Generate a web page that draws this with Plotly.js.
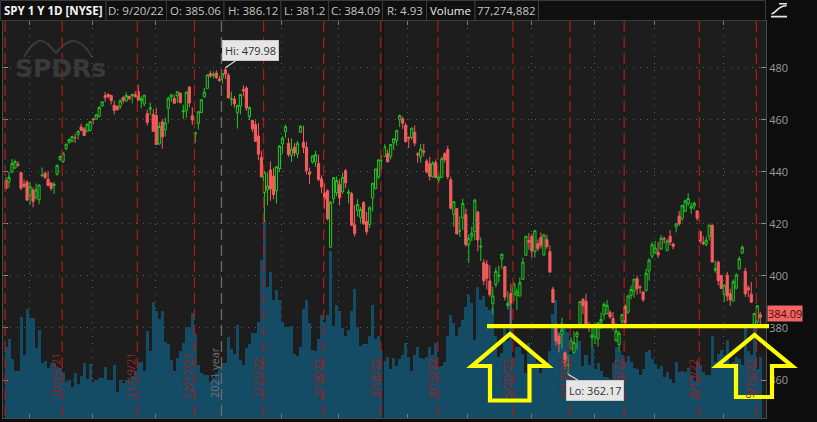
<!DOCTYPE html>
<html><head><meta charset="utf-8">
<script src="https://cdn.plot.ly/plotly-3.0.1.min.js"></script>
<style>html,body{margin:0;padding:0;background:#0d0d0d;overflow:hidden}#chart{width:817px;height:422px}</style>
</head><body><div id="chart"></div>
<script>
const dates = ["9/21/21","9/22/21","9/23/21","9/24/21","9/27/21","9/28/21","9/29/21","9/30/21","10/1/21","10/4/21","10/5/21","10/6/21","10/7/21","10/8/21","10/11/21","10/12/21","10/13/21","10/14/21","10/15/21","10/18/21","10/19/21","10/20/21","10/21/21","10/22/21","10/25/21","10/26/21","10/27/21","10/28/21","10/29/21","11/1/21","11/2/21","11/3/21","11/4/21","11/5/21","11/8/21","11/9/21","11/10/21","11/11/21","11/12/21","11/15/21","11/16/21","11/17/21","11/18/21","11/19/21","11/22/21","11/23/21","11/24/21","11/26/21","11/29/21","11/30/21","12/1/21","12/2/21","12/3/21","12/6/21","12/7/21","12/8/21","12/9/21","12/10/21","12/13/21","12/14/21","12/15/21","12/16/21","12/17/21","12/20/21","12/21/21","12/22/21","12/23/21","12/27/21","12/28/21","12/29/21","12/30/21","12/31/21","1/3/22","1/4/22","1/5/22","1/6/22","1/7/22","1/10/22","1/11/22","1/12/22","1/13/22","1/14/22","1/18/22","1/19/22","1/20/22","1/21/22","1/24/22","1/25/22","1/26/22","1/27/22","1/28/22","1/31/22","2/1/22","2/2/22","2/3/22","2/4/22","2/7/22","2/8/22","2/9/22","2/10/22","2/11/22","2/14/22","2/15/22","2/16/22","2/17/22","2/18/22","2/22/22","2/23/22","2/24/22","2/25/22","2/28/22","3/1/22","3/2/22","3/3/22","3/4/22","3/7/22","3/8/22","3/9/22","3/10/22","3/11/22","3/14/22","3/15/22","3/16/22","3/17/22","3/18/22","3/21/22","3/22/22","3/23/22","3/24/22","3/25/22","3/28/22","3/29/22","3/30/22","3/31/22","4/1/22","4/4/22","4/5/22","4/6/22","4/7/22","4/8/22","4/11/22","4/12/22","4/13/22","4/14/22","4/18/22","4/19/22","4/20/22","4/21/22","4/22/22","4/25/22","4/26/22","4/27/22","4/28/22","4/29/22","5/2/22","5/3/22","5/4/22","5/5/22","5/6/22","5/9/22","5/10/22","5/11/22","5/12/22","5/13/22","5/16/22","5/17/22","5/18/22","5/19/22","5/20/22","5/23/22","5/24/22","5/25/22","5/26/22","5/27/22","5/31/22","6/1/22","6/2/22","6/3/22","6/6/22","6/7/22","6/8/22","6/9/22","6/10/22","6/13/22","6/14/22","6/15/22","6/16/22","6/17/22","6/21/22","6/22/22","6/23/22","6/24/22","6/27/22","6/28/22","6/29/22","6/30/22","7/1/22","7/5/22","7/6/22","7/7/22","7/8/22","7/11/22","7/12/22","7/13/22","7/14/22","7/15/22","7/18/22","7/19/22","7/20/22","7/21/22","7/22/22","7/25/22","7/26/22","7/27/22","7/28/22","7/29/22","8/1/22","8/2/22","8/3/22","8/4/22","8/5/22","8/8/22","8/9/22","8/10/22","8/11/22","8/12/22","8/15/22","8/16/22","8/17/22","8/18/22","8/19/22","8/22/22","8/23/22","8/24/22","8/25/22","8/26/22","8/29/22","8/30/22","8/31/22","9/1/22","9/2/22","9/6/22","9/7/22","9/8/22","9/9/22","9/12/22","9/13/22","9/14/22","9/15/22","9/16/22","9/19/22","9/20/22"];

const opens = [436.53,436.05,439.85,441.44,442.81,439.69,435.19,436.02,430.98,433.00,
430.24,429.27,438.39,439.48,437.16,435.67,434.71,439.08,444.75,443.97,
448.92,451.13,451.77,453.13,454.28,457.20,456.45,455.46,455.87,460.30,
460.22,461.30,465.36,469.28,469.70,469.32,465.58,465.21,465.12,468.64,
467.15,469.00,469.24,469.61,470.89,467.22,466.06,462.34,464.07,462.00,
461.64,450.73,459.17,456.13,464.41,468.70,468.15,469.23,470.19,463.09,
463.42,472.57,461.55,454.48,458.61,462.79,468.75,472.06,477.72,476.98,
477.93,475.64,476.30,479.22,477.16,467.89,467.95,462.70,465.23,471.59,
472.19,461.19,459.74,458.13,453.75,445.56,432.03,433.06,440.72,438.26,
432.68,441.24,450.68,455.50,450.95,446.35,449.51,446.73,455.22,451.34,
449.41,439.92,443.73,443.93,443.22,437.33,431.89,432.66,411.02,429.61,
432.03,435.04,432.37,440.47,431.75,431.55,419.62,425.14,422.52,428.12,
420.89,419.77,429.89,433.59,438.00,444.34,445.86,446.91,445.94,451.16,
452.06,460.02,460.34,457.89,453.31,453.13,455.22,446.89,445.59,447.97,
444.11,443.08,438.03,443.55,436.81,437.86,446.92,448.54,436.91,423.67,
425.83,417.24,422.29,423.59,412.07,415.01,417.08,424.55,411.10,405.10,
404.49,398.07,389.37,396.71,399.98,406.53,403.50,388.62,393.25,392.83,
392.56,392.31,398.67,407.91,413.55,415.17,409.42,412.40,414.78,408.10,
413.93,409.34,394.88,379.85,376.85,377.36,370.51,365.51,371.89,370.62,
376.64,381.40,391.05,390.23,381.23,376.24,376.56,375.88,382.11,385.12,
385.55,385.85,383.65,375.10,373.61,382.55,388.38,386.08,392.47,394.16,
398.92,395.75,393.84,394.36,401.89,407.58,409.15,409.12,410.30,414.37,
409.66,415.25,412.22,418.78,422.99,422.03,424.77,427.73,425.97,426.86,
424.98,417.05,412.90,412.11,415.24,419.39,402.20,405.25,400.15,392.89,
400.28,393.13,390.37,395.33,402.74,408.78,401.83,395.46,392.96,381.47,
382.26,385.06];

const highs = [437.91,440.03,444.89,444.67,444.05,440.04,437.04,436.77,436.03,433.96,
435.49,435.12,441.68,439.89,440.26,436.10,436.05,442.66,446.26,447.55,
450.71,452.73,453.83,454.67,455.90,458.49,457.16,458.40,459.56,460.70,
462.23,465.15,467.00,470.65,470.23,469.57,467.38,465.29,467.86,468.81,
470.49,469.19,470.01,470.94,473.54,469.10,469.57,463.90,466.56,464.03,
464.67,459.07,460.30,460.79,468.88,470.00,469.63,470.90,470.56,465.74,
470.86,472.87,464.74,455.40,463.21,467.81,472.19,477.31,478.81,478.56,
479.00,476.86,477.85,479.98,477.98,470.82,469.20,465.74,469.85,473.20,
472.88,465.09,459.96,459.61,458.74,448.06,440.38,439.72,444.04,441.59,
442.00,450.28,453.63,458.12,452.97,452.78,450.99,451.92,457.88,457.71,
451.61,441.60,446.28,448.06,446.57,438.66,435.50,433.26,428.76,437.84,
438.20,437.17,439.72,441.11,433.37,432.30,427.21,429.51,426.43,428.77,
424.55,426.84,435.68,441.07,444.86,446.46,450.58,448.49,450.50,452.98,
455.91,462.07,461.20,458.76,453.46,456.91,457.83,447.57,450.69,450.63,
445.00,445.75,444.11,444.73,439.75,445.80,447.57,450.01,438.08,428.69,
426.04,422.92,429.64,425.87,415.92,418.93,429.66,425.00,414.80,406.41,
406.08,404.04,395.80,403.18,403.97,408.57,403.80,394.14,397.03,397.73,
395.15,399.45,407.04,415.38,416.46,416.24,417.44,414.04,416.61,416.22,
415.82,411.74,395.78,381.81,377.94,383.90,370.94,369.38,376.53,378.72,
378.83,390.09,391.36,393.16,382.27,380.66,381.70,381.98,385.87,389.83,
390.64,386.87,386.16,381.92,379.05,385.25,389.09,392.87,396.26,398.84,
400.18,396.47,394.06,402.88,406.80,413.03,413.41,413.00,415.68,415.09,
414.15,417.62,412.75,420.00,424.95,427.21,429.31,431.73,428.11,428.61,
425.26,417.16,415.42,415.11,419.56,419.96,405.84,405.90,400.50,396.78,
401.56,395.04,398.59,401.06,407.51,411.73,403.10,396.46,397.73,385.62,
388.55,386.12];

const lows = [433.07,433.75,439.60,441.21,441.90,432.94,433.85,428.78,427.23,426.36,
429.39,427.54,438.20,437.19,434.62,432.78,431.54,438.58,444.09,443.27,
448.27,451.01,451.31,451.05,452.39,455.56,453.86,455.45,455.56,458.20,
460.08,460.83,464.99,466.92,468.20,465.88,462.04,463.75,464.11,466.23,
467.07,467.48,466.34,468.50,467.35,464.45,465.19,457.77,461.73,455.30,
450.29,450.31,448.92,453.56,458.65,466.83,466.14,466.51,466.27,460.25,
460.74,464.80,458.06,451.14,456.31,462.58,468.64,472.01,476.06,475.92,
475.67,474.67,473.85,475.58,468.28,465.43,464.65,456.60,462.05,468.94,
463.44,459.90,455.31,451.46,444.50,437.95,420.76,427.15,428.86,429.45,
427.82,439.81,446.94,453.05,445.71,443.83,445.85,445.22,455.01,447.20,
438.94,435.34,443.18,441.94,436.42,431.82,425.86,421.35,410.64,427.86,
430.70,427.11,431.57,433.80,427.88,419.36,415.12,422.82,420.44,419.53,
415.79,418.42,424.80,433.19,437.22,440.68,445.86,443.71,444.76,448.43,
450.06,457.18,456.47,451.16,449.14,452.26,449.82,443.48,443.53,445.94,
439.39,436.65,437.84,437.68,435.61,437.68,443.48,437.10,425.44,418.84,
416.07,415.01,417.60,411.21,405.02,413.36,413.71,409.44,405.73,396.50,
394.82,391.96,385.15,395.61,397.60,402.58,390.55,387.11,380.54,390.38,
386.96,391.89,398.45,407.70,410.03,406.93,407.04,409.51,410.55,407.61,
410.38,401.44,389.75,373.30,370.59,372.12,364.08,362.17,371.81,370.18,
371.73,381.37,385.25,380.53,378.42,372.56,373.80,372.90,379.60,383.27,
385.25,383.50,378.99,374.66,371.04,380.54,380.66,385.39,391.03,391.63,
392.75,393.21,389.95,394.05,398.15,406.77,408.40,406.82,410.00,412.44,
409.60,411.83,410.22,416.73,419.21,421.03,424.71,426.88,423.85,425.50,
421.22,412.45,411.77,411.39,413.60,405.25,401.20,396.40,395.04,390.04,
390.33,388.42,390.20,394.78,402.46,408.46,391.97,391.76,389.62,380.54,
381.58,381.20];

const closes = [433.63,437.86,443.18,443.91,442.64,433.72,434.45,429.14,434.24,428.64,
433.10,434.90,438.66,437.86,434.69,433.62,435.18,442.50,445.87,447.19,
450.64,452.41,453.59,453.12,455.55,455.96,453.94,458.32,459.25,460.04,
461.90,464.72,466.91,468.53,468.93,467.38,463.62,463.77,467.27,467.43,
469.28,468.14,469.73,468.89,467.57,468.19,469.44,458.97,464.60,455.56,
450.50,457.40,453.42,458.79,468.28,469.52,466.35,470.74,466.57,463.36,
470.60,466.45,459.87,454.98,463.06,467.69,470.60,477.26,476.87,477.48,
476.16,474.96,477.71,477.55,468.38,467.94,466.09,465.51,469.75,471.02,
464.53,464.72,456.49,451.75,446.75,437.98,439.84,434.47,433.38,431.24,
441.95,449.91,452.95,457.35,446.60,448.70,447.26,450.94,457.54,449.32,
440.46,439.02,446.10,446.60,437.06,434.23,429.57,421.95,428.30,437.75,
436.63,429.98,437.89,435.71,432.17,419.43,416.25,427.41,425.48,420.07,
417.00,426.17,435.62,441.07,444.52,444.39,449.59,443.80,450.49,452.69,
455.91,461.55,458.70,451.64,452.92,456.80,451.03,446.52,448.77,447.57,
439.92,438.29,443.31,437.79,437.97,445.04,444.71,438.06,426.04,428.51,
416.10,417.27,427.81,412.00,414.48,416.38,429.06,413.81,411.34,398.17,
399.09,392.75,392.34,401.72,400.09,408.32,391.86,389.46,389.63,396.92,
393.89,397.37,405.31,415.26,412.93,409.59,417.39,410.54,411.79,415.74,
411.22,401.44,389.80,375.00,373.87,379.20,366.65,365.86,375.07,374.39,
378.06,390.08,388.59,380.65,380.34,377.25,381.24,381.96,383.25,388.99,
388.67,384.23,380.83,378.83,377.91,385.13,381.95,392.27,394.77,398.79,
395.09,395.57,390.89,401.04,406.07,411.99,410.77,408.06,414.45,414.17,
413.47,412.99,411.35,419.99,419.99,427.10,428.86,429.70,426.65,427.89,
422.14,413.35,412.35,413.67,419.51,405.31,402.63,398.21,395.18,396.42,
392.24,390.76,397.78,400.38,406.60,410.97,393.10,394.60,389.90,385.56,
388.55,384.09];

// volume, millions of shares
const volumes = [91,101,75,60,60,129,80,139,127,127,
89,112,70,73,64,70,70,64,64,59,
46,48,40,57,43,54,70,50,69,46,
48,51,51,65,49,49,68,33,49,45,
49,49,54,60,72,72,60,111,85,148,
136,126,136,97,94,74,60,77,85,96,
116,116,134,107,68,57,55,55,46,51,
57,64,70,70,103,88,82,119,74,68,
89,94,108,108,122,201,252,167,186,150,
163,150,123,116,116,117,82,79,91,139,
151,121,87,86,101,131,123,131,213,117,
144,136,115,105,112,136,164,116,92,94,
94,105,144,101,105,87,73,78,63,76,
66,75,80,95,78,60,80,90,77,75,
78,91,80,95,65,66,72,104,131,121,
104,116,125,142,157,146,99,167,150,155,
142,138,140,104,78,83,117,98,146,76,
91,91,82,57,95,86,79,71,57,67,
64,86,132,150,110,121,120,110,81,90,
95,98,66,80,67,90,62,70,60,52,
52,50,70,90,85,80,72,79,71,64,
63,55,62,84,87,75,69,63,66,52,
58,50,44,72,59,60,58,64,55,47,
72,68,58,55,55,105,72,82,87,80,
99,65,71,78,75,68,115,85,80,115,
62,77.27];

const expiryLabels = ["9/17/21","10/15/21","11/19/21","12/17/21","1/21/22","2/18/22","3/18/22","4/15/22","5/20/22","6/17/22","7/15/22","8/19/22","9/16/22"];
const priceTicks = [360,380,400,420,440,460,480];
const lastVolumeShares = 77274882;
const lastRange = "4.93";
const symbolTitle = "SPY 1 Y 1D [NYSE]";
const cursorDate = "3/21/22";

// ---------- helpers ----------
const W = 817, H = 422, M = {l:3, r:51, t:21, b:4};
const PW = W - M.l - M.r, PH = H - M.t - M.b;
const PX = x => (x - M.l) / PW;
const PY = y => (H - M.b - y) / PH;
function key(s){const p=s.split('/').map(Number);return (2000+p[2])*10000+p[0]*100+p[1];}
const dateKeys = dates.map(key);
const idx = dates.map((d,i)=>i);
const last = dates.length - 1;
const OFF = -0.3;

const monthStarts = [], yearStarts = [];
for(let i=1;i<dates.length;i++){
  const a = dates[i-1].split('/'), b = dates[i].split('/');
  if(b[2] !== a[2]) yearStarts.push(i); else if(b[0] !== a[0]) monthStarts.push(i);
}
const expiryIdx = expiryLabels.map(s => { const k = key(s); return dateKeys.findIndex(v => v > k); });

function pxPath(cmds){
  return cmds.map(c => c[0] + ' ' + c.slice(1).map((v,j)=> j%2===0 ? PX(v).toFixed(5) : PY(v).toFixed(5)).join(' ')).join(' ');
}

const grid = {gridcolor:'#5c5c5c', griddash:'1px,6px', gridwidth:1};

// ---------- traces ----------
const volTrace = {
  type:'bar', x: idx, y: volumes, yaxis:'y', xaxis:'x',
  marker:{color:'#144b65', line:{width:0}}, hoverinfo:'skip', showlegend:false
};
const candleTrace = {
  type:'candlestick', x: idx, open: opens, high: highs, low: lows, close: closes,
  xaxis:'x', yaxis:'y2', showlegend:false, hoverinfo:'skip',
  increasing:{line:{color:'#22c822', width:1}, fillcolor:'#1d1d1d'},
  decreasing:{line:{color:'#f65c5c', width:1}, fillcolor:'#f65c5c'},
  whiskerwidth:0
};

// ---------- shapes ----------
const shapes = [];
expiryIdx.forEach(e => {
  if(e < 0) return;
  shapes.push({type:'line', xref:'x', yref:'paper', x0:e+OFF, x1:e+OFF, y0:1, y1:0,
    line:{color:'#a51c1c', width:1.3, dash:'11px,5px'}, layer:'above'});
});
yearStarts.forEach(e => {
  shapes.push({type:'line', xref:'x', yref:'paper', x0:e+OFF, x1:e+OFF, y0:1, y1:0,
    line:{color:'#6c6c6c', width:1.3, dash:'11px,5px'}, layer:'above'});
});
const ci = dates.indexOf(cursorDate) + 0.5;
shapes.push({type:'line', xref:'x', yref:'paper', x0:ci, x1:ci, y0:0, y1:1, line:{color:'#0e0e0e', width:1}, layer:'above'});

const header = [
  {t:symbolTitle, x0:0.5, x1:106, bold:true, c:'#f4f4f4'},
  {t:'D: ' + dates[last], x0:106, x1:166.5},
  {t:'O: ' + opens[last], x0:166.5, x1:224},
  {t:'H: ' + highs[last], x0:224, x1:281},
  {t:'L: ' + lows[last], x0:281, x1:328.5},
  {t:'C: ' + closes[last], x0:328.5, x1:382.5},
  {t:'R: ' + lastRange, x0:382.5, x1:426.5},
  {t:'Volume', x0:426.5, x1:475, c:'#ececec'},
  {t:lastVolumeShares.toLocaleString('en-US'), x0:475, x1:538.5},
  {t:'', x0:538.5, x1:765.5}
];
header.forEach(h => shapes.push({type:'rect', xref:'paper', yref:'paper', x0:PX(h.x0), x1:PX(h.x1), y0:PY(20.5), y1:PY(0.5),
  line:{color:'#3b3b3b', width:1}, fillcolor:'#0f0f0f', layer:'above'}));

shapes.push({type:'path', xref:'paper', yref:'paper', layer:'above', line:{color:'#e6e6e6', width:1.6},
  path: pxPath([['M',779,3.8],['L',787,3.8],['M',771.5,13.8],['C',776,13.8,777,5.8,786.5,5.8],['M',771,16.6],['L',787,16.6]])});

shapes.push({type:'path', xref:'paper', yref:'paper', layer:'below', line:{color:'#3a3a3a', width:2},
  path: pxPath([['M',24,57],['C',30,45,38,40,42,41],['C',47,42,52,48,56,53],['C',60,48,66,42,72,41],['C',78,40,86,46,92,57]])});

shapes.push({type:'line', xref:'paper', yref:'paper', x0:PX(487), x1:PX(769), y0:PY(326.2), y1:PY(326.2),
  line:{color:'#ffff00', width:4.2}, layer:'above'});
const arrow1 = [['M',490,400.5],['L',490,366],['L',472,366],['L',510,334],['L',548,366],['L',529.5,366],['L',529.5,400.5],['Z']];
const arrow2 = [['M',736,397],['L',736,366],['L',717,366],['L',754.5,335],['L',792,366],['L',772,366],['L',772,397],['Z']];
[arrow1, arrow2].forEach(a => shapes.push({type:'path', xref:'paper', yref:'paper', layer:'above',
  line:{color:'#ffff00', width:4.2}, fillcolor:'rgba(0,0,0,0)', path:pxPath(a)}));

// ---------- annotations ----------
const annotations = [];
header.forEach(h => { if(!h.t) return; annotations.push({xref:'paper', yref:'paper', x:PX((h.x0+h.x1)/2), y:PY(10.6),
  xanchor:'center', yanchor:'middle', showarrow:false, text: h.bold ? '<b>'+h.t+'</b>' : h.t,
  font:{family:'Open Sans', size:11.5, color:h.c || '#c4c4c4'}}); });

annotations.push({xref:'paper', yref:'paper', x:PX(60), y:PY(68), xanchor:'center', yanchor:'middle', showarrow:false,
  text:'<b>SPDRs</b>', font:{family:'DejaVu Sans', size:25, color:'#393939'}});

expiryIdx.forEach((e,k) => {
  if(e < 3) return;
  annotations.push({xref:'x', yref:'paper', x:e+OFF, y:PY(399), xanchor:'right', yanchor:'bottom', xshift:1.5,
    textangle:-90, showarrow:false, borderpad:0, text:expiryLabels[k], font:{family:'Open Sans', size:11, color:'#9c2424'}});
});
yearStarts.forEach(e => {
  annotations.push({xref:'x', yref:'paper', x:e+OFF, y:PY(399), xanchor:'right', yanchor:'bottom', xshift:1.5,
    textangle:-90, showarrow:false, borderpad:0, text: '20' + dates[e-1].split('/')[2] + ' year', font:{family:'Open Sans', size:11, color:'#727272'}});
});

const hiVal = Math.max(...highs), hiIdx = highs.indexOf(hiVal);
const loVal = Math.min(...lows), loIdx = lows.indexOf(loVal);
annotations.push({xref:'x', yref:'y2', x:hiIdx, y:hiVal, text:'Hi: ' + hiVal.toFixed(2), showarrow:true, arrowhead:0,
  arrowwidth:1.2, arrowcolor:'#d6d6d6', ax:25, ay:-17, bgcolor:'#e6e6e6', bordercolor:'#c9c9c9', borderwidth:1, borderpad:2,
  font:{family:'Open Sans', size:11, color:'#303030'}});
annotations.push({xref:'x', yref:'y2', x:loIdx, y:loVal, text:'Lo: ' + loVal.toFixed(2), showarrow:true, arrowhead:0,
  arrowwidth:1.2, arrowcolor:'#d6d6d6', ax:27, ay:16, bgcolor:'#e6e6e6', bordercolor:'#c9c9c9', borderwidth:1, borderpad:2,
  font:{family:'Open Sans', size:11, color:'#303030'}});
annotations.push({xref:'paper', yref:'y2', x:1, y:closes[last], xanchor:'left', yanchor:'middle', xshift:1, yshift:4,
  showarrow:false, text:closes[last].toFixed(2), bgcolor:'#f36464', borderpad:0,
  font:{family:'Open Sans', size:11, color:'#4a0c0c'}});

// ---------- layout ----------
const layout = {
  width:W, height:H, margin:M,
  paper_bgcolor:'#0d0d0d', plot_bgcolor:'#1d1d1d',
  font:{family:'Open Sans', color:'#9a9a9a', size:11},
  showlegend:false, bargap:0, boxgap:0.2, boxgroupgap:0.1, dragmode:false,
  xaxis: Object.assign({range:[-1.0, 252.9], tickvals: monthStarts.map(i=>i+OFF), showticklabels:false,
    ticks:'inside', ticklen:4, tickcolor:'#7a7a7a', showline:true, linecolor:'#4b4b4b', mirror:'ticks',
    showgrid:true, zeroline:false, rangeslider:{visible:false}, fixedrange:true}, grid),
  yaxis: {range:[0, 506], visible:false, fixedrange:true},
  yaxis2: Object.assign({overlaying:'y', side:'right', range:[345.4, 497.94], tickvals:priceTicks,
    ticks:'inside', ticklen:5, tickcolor:'#8a8a8a', showline:true, linecolor:'#4b4b4b', mirror:'ticks',
    tickfont:{family:'Open Sans', size:11, color:'#9c9c9c'}, showgrid:true, zeroline:false, fixedrange:true}, grid),
  shapes, annotations
};

Plotly.newPlot('chart', [volTrace, candleTrace], layout, {staticPlot:true, displayModeBar:false});
</script></body></html>
